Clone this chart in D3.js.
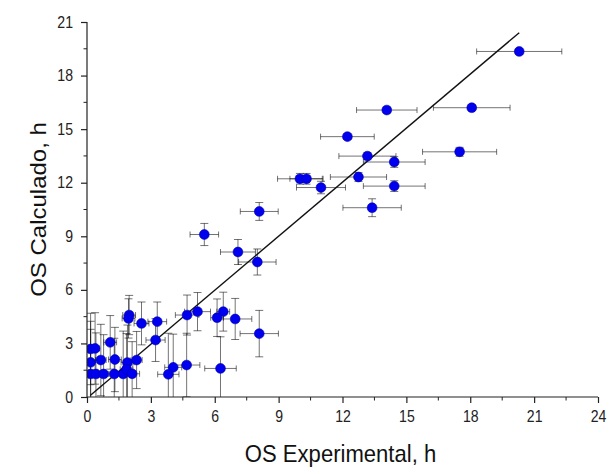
<!DOCTYPE html>
<html>
<head>
<meta charset="utf-8">
<script src="https://cdn.jsdelivr.net/npm/d3@7"></script>
<style>
  html, body { margin: 0; padding: 0; background: #fff; }
  svg { display: block; }
</style>
</head>
<body>
<svg id="chart" width="611" height="474"></svg>
<script>
// Survival time: experimental vs calculated (hours), with error bars
const osExp  = [20.3, 18.07, 17.5, 14.08, 12.23, 13.17, 14.43, 10.0, 10.31, 10.99, 12.75, 14.43, 13.39,
                8.09, 5.51, 7.09, 8.0, 6.4, 6.11, 6.96, 8.09, 6.27, 5.19, 4.7, 4.68, 4.05, 3.82,
                3.3, 3.22, 2.56, 1.98, 1.95, 2.33, 1.09, 0.17, 0.38, 0.17, 0.65, 1.31, 1.9,
                0.17, 0.42, 0.78, 1.28, 1.7, 1.86, 2.12];
const osCalc = [19.35, 16.2, 13.73, 16.07, 14.58, 13.49, 13.16, 12.22, 12.22, 11.73, 12.32, 11.81, 10.6,
                10.39, 9.1, 8.12, 7.56, 4.78, 4.44, 4.37, 3.55, 1.6, 4.78, 4.59, 1.79, 1.66, 1.27,
                4.22, 3.19, 4.12, 4.59, 4.4, 2.07, 3.06, 2.69, 2.72, 1.94, 2.07, 2.1, 1.93,
                1.29, 1.29, 1.29, 1.29, 1.29, 1.55, 1.3];
const errExp = [2.0, 1.8, 1.74, 1.42, 1.26, 1.34, 1.45, 1.05, 0.78, 1.15, 1.32, 1.45, 1.37,
                0.89, 0.67, 0.82, 0.88, 0.3, 0.3, 0.78, 0.9, 0.74, 0.61, 0.55, 0.62, 0.4, 0.5,
                0.44, 0.45, 0.35, 0.3, 0.3, 0.26, 0.3, 0.2, 0.2, 0.15, 0.25, 0.3, 0.3,
                0.15, 0.2, 0.2, 0.25, 0.25, 0.3, 0.35];
const errCalc = [0.15, 0.15, 0.25, 0.15, 0.15, 0.2, 0.3, 0.3, 0.3, 0.35, 0.25, 0.3, 0.5,
                 0.5, 0.62, 0.7, 0.73, 1.09, 1.05, 1.15, 1.3, 1.77, 1.07, 1.12, 1.78, 1.86, 2.3,
                 1.1, 1.2, 1.2, 1.1, 1.1, 1.6, 1.5, 2.0, 2.0, 2.3, 2.0, 1.8, 2.1,
                 2.5, 2.3, 2.2, 2.0, 2.4, 2.0, 1.8];

// Linear fit drawn across the data
const fitX = [0.15, 20.3];
const fitY = [0.08, 20.4];

const xTicks = [0, 3, 6, 9, 12, 15, 18, 21, 24];
const yTicks = [0, 3, 6, 9, 12, 15, 18, 21];
const xMinor = d3.range(1.5, 24, 3);
const yMinor = d3.range(1.5, 21, 3);

const svg = d3.select("#chart");
const margin = { left: 87, top: 22, right: 13, bottom: 77 };
const W = 611, H = 474;

const x = d3.scaleLinear().domain([0, 24]).range([margin.left, W - margin.right]);
const y = d3.scaleLinear().domain([0, 21]).range([H - margin.bottom, margin.top]);

svg.append("defs").append("clipPath").attr("id", "plotClip")
  .append("rect")
  .attr("x", x(0)).attr("y", y(21) - 10)
  .attr("width", x(24) - x(0)).attr("height", y(0) - y(21) + 10);

const data = osExp.map((d, i) => ({ x: d, y: osCalc[i], ex: errExp[i], ey: errCalc[i] }));

const plot = svg.append("g").attr("clip-path", "url(#plotClip)");

// Error bars (semi-transparent so overlapping bars read darker)
const capX = 3, capY = 4;
const eb = plot.append("g").attr("stroke", "#000").attr("stroke-opacity", 0.55)
  .attr("stroke-width", 1).attr("fill", "none");
data.forEach(d => {
  const g = eb.append("g");
  g.append("line").attr("x1", x(d.x - d.ex)).attr("x2", x(d.x + d.ex)).attr("y1", y(d.y)).attr("y2", y(d.y));
  g.append("line").attr("x1", x(d.x - d.ex)).attr("x2", x(d.x - d.ex)).attr("y1", y(d.y) - capX).attr("y2", y(d.y) + capX);
  g.append("line").attr("x1", x(d.x + d.ex)).attr("x2", x(d.x + d.ex)).attr("y1", y(d.y) - capX).attr("y2", y(d.y) + capX);
  g.append("line").attr("x1", x(d.x)).attr("x2", x(d.x)).attr("y1", y(d.y - d.ey)).attr("y2", y(d.y + d.ey));
  g.append("line").attr("x1", x(d.x) - capY).attr("x2", x(d.x) + capY).attr("y1", y(d.y + d.ey)).attr("y2", y(d.y + d.ey));
  g.append("line").attr("x1", x(d.x) - capY).attr("x2", x(d.x) + capY).attr("y1", y(d.y - d.ey)).attr("y2", y(d.y - d.ey));
});

// Fit line
plot.append("path")
  .datum(fitX.map((d, i) => [d, fitY[i]]))
  .attr("d", d3.line().x(d => x(d[0])).y(d => y(d[1])))
  .attr("stroke", "#111").attr("stroke-width", 1.4).attr("fill", "none");

// Points
plot.append("g").selectAll("circle").data(data).join("circle")
  .attr("cx", d => x(d.x)).attr("cy", d => y(d.y)).attr("r", 4.9)
  .attr("fill", "#0000ee").attr("stroke", "#0000aa").attr("stroke-width", 0.6);

// Axes
const font = "'Liberation Sans', Arial, sans-serif";
const tickFont = 16, sx = 0.88;
const tickLen = 6, tickPad = 8;
const xAxis = svg.append("g").attr("transform", `translate(0,${y(0)})`)
  .call(d3.axisBottom(x).tickValues(xTicks).tickSize(tickLen).tickPadding(tickPad).tickFormat(d3.format("d")));
const yAxis = svg.append("g").attr("transform", `translate(${x(0)},0)`)
  .call(d3.axisLeft(y).tickValues(yTicks).tickSize(tickLen).tickPadding(tickPad).tickFormat(d3.format("d")));

[xAxis, yAxis].forEach(a => {
  a.select(".domain").attr("stroke", "#222").attr("stroke-width", 1.2);
  a.selectAll(".tick line").attr("stroke", "#222").attr("stroke-width", 1.2);
  a.selectAll(".tick text").attr("font-family", font).attr("font-size", tickFont).attr("fill", "#222");
});
// slightly condensed tick labels
xAxis.selectAll(".tick text").attr("transform", `scale(${sx},1)`);
yAxis.selectAll(".tick text")
  .attr("x", -(tickLen + tickPad) / sx)
  .attr("transform", `scale(${sx},1)`);

// keep the axis lines exactly at the data range
xAxis.select(".domain").attr("d", `M${x(0)},0H${x(24)}`);
yAxis.select(".domain").attr("d", `M0,${y(0)}V${y(21)}`);

// Minor ticks
xAxis.append("g").selectAll("line").data(xMinor).join("line")
  .attr("x1", d => x(d)).attr("x2", d => x(d)).attr("y1", 0).attr("y2", 3.5)
  .attr("stroke", "#222").attr("stroke-width", 1);
yAxis.append("g").selectAll("line").data(yMinor).join("line")
  .attr("y1", d => y(d)).attr("y2", d => y(d)).attr("x1", 0).attr("x2", -3.5)
  .attr("stroke", "#222").attr("stroke-width", 1);

// Axis titles
const titleFont = 24, tsx = 0.92;
svg.append("text")
  .attr("transform", `translate(${(x(0) + x(24)) / 2 - 2},462) scale(${tsx},1)`)
  .attr("text-anchor", "middle")
  .attr("font-family", font).attr("font-size", titleFont).attr("fill", "#111")
  .text("OS Experimental, h");

svg.append("text")
  .attr("transform", `translate(46,${(y(0) + y(21)) / 2}) rotate(-90) scale(1,${tsx})`)
  .attr("text-anchor", "middle")
  .attr("font-family", font).attr("font-size", titleFont).attr("fill", "#111")
  .text("OS Calculado, h");
</script>
</body>
</html>
